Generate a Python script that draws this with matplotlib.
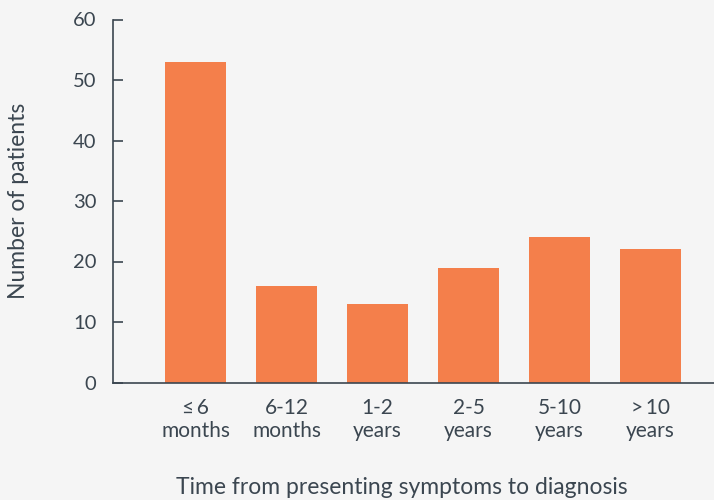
import matplotlib
matplotlib.use("Agg")
import matplotlib.pyplot as plt

categories = ["\u2264\u20096\nmonths", "6-12\nmonths", "1-2\nyears", "2-5\nyears", "5-10\nyears", ">\u200910\nyears"]
values = [53, 16, 13, 19, 24, 22]

plt.rcParams['font.family'] = ['Lato', 'DejaVu Sans']
text_color = "#3b4650"
bg = "#f5f5f5"
bar_color = "#f47f4b"

fig = plt.figure(figsize=(7.14, 5.0), dpi=100, facecolor=bg)
ax = fig.add_axes([113/714, 1-382.5/500, 1-113/714, (382.5-19.5)/500], facecolor=bg)
x = list(range(len(categories)))
ax.bar(x, values, width=0.67, color=bar_color, zorder=2)
ax.set_xlim(-0.907, 5.698)
ax.set_ylim(0, 60)
ax.set_yticks(range(0, 61, 10))
ax.set_xticks(x)
ax.set_xticklabels(categories, fontsize=15, color=text_color, linespacing=1.2)
ax.tick_params(axis='x', length=0, pad=11)
ax.tick_params(axis='y', direction='in', length=7, width=1.2, color=text_color,
               labelsize=14.5, labelcolor=text_color, pad=12)
for s in ['top', 'right']:
    ax.spines[s].set_visible(False)
for s in ['left', 'bottom']:
    ax.spines[s].set_color(text_color)
    ax.spines[s].set_linewidth(1.2)

fig.text(402/714, 1-487/500, "Time from presenting symptoms to diagnosis",
         ha='center', va='center', fontsize=16.5, color=text_color)
fig.text(19/714, 1-201/500, "Number of patients", rotation=90,
         ha='center', va='center', fontsize=16.5, color=text_color)

fig.savefig("out.png", dpi=100, facecolor=bg)
